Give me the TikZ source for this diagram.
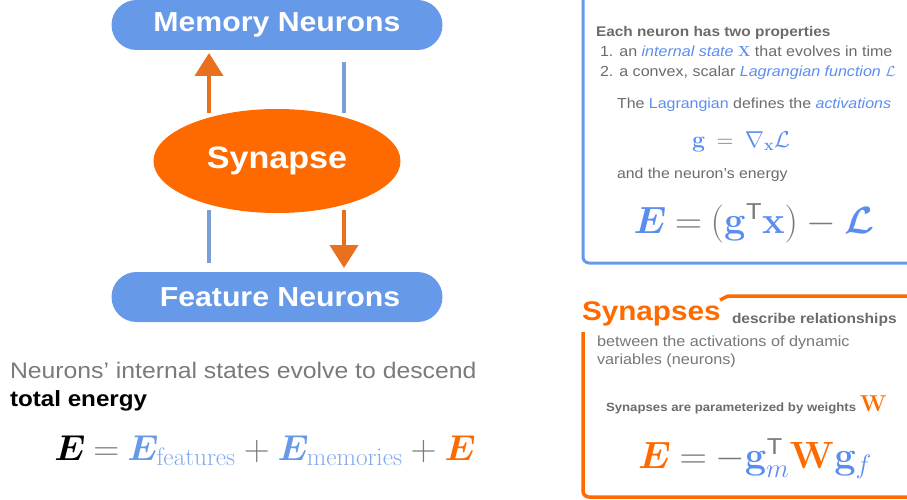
\RequirePackage{fix-cm}
\documentclass[tikz,border=0pt]{standalone}
\usepackage{amsmath,bm}
\usepackage[no-math]{fontspec}
\setmainfont{Liberation Sans}[FakeStretch=1.1]
\usetikzlibrary{arrows.meta,shapes.geometric}
\definecolor{nblue}{HTML}{6699E8}
\definecolor{tblue}{HTML}{5B8DEF}
\definecolor{sblue}{HTML}{84A9EE}
\definecolor{sorange}{HTML}{FF6A00}
\definecolor{aorange}{HTML}{E8701F}
\definecolor{lblue}{HTML}{7A9FD6}
\definecolor{tgray}{HTML}{777777}
\definecolor{bgray}{HTML}{6B6B6B}
\definecolor{mgray}{HTML}{7A7A7A}
\newcommand{\fs}[1]{\fontsize{#1}{#1}\selectfont}
\newcommand{\trT}[1]{\mbox{\fs{#1}\color{mgray}T}}
\begin{document}
\begin{tikzpicture}[x=1pt,y=-1pt,
  pill/.style={draw=none,fill=nblue,rounded corners=25pt,minimum width=331pt,minimum height=50pt,inner sep=0pt,text=white},
  oarrow/.style={draw=aorange,line width=4pt,-{Triangle[width=28pt,length=23pt]}},
  bline/.style={draw=lblue,line width=4pt},
  txt/.style={anchor=base west,inner sep=0pt,outer sep=0pt},
  mth/.style={anchor=base,inner sep=0pt,outer sep=0pt}]
\useasboundingbox (0,0) rectangle (907,500);
\clip (0,0) rectangle (907,500);

% left diagram
\node[pill,font=\fs{27.5}\bfseries] (mem) at (277,25) {Memory Neurons};
\node[pill,font=\fs{27.5}\bfseries] (feat) at (277,297) {\hspace{6pt}Feature Neurons};
\node[ellipse,fill=sorange,draw=none,minimum width=247pt,minimum height=104pt,inner sep=0pt,text=white,font=\fs{31}\bfseries] (syn) at (277,161) {Synapse};

\coordinate (upS) at (209,113);
\coordinate (upE) at (209,53);
\coordinate (blS) at (344,62);
\coordinate (blE) at (344,113);
\coordinate (bl2S) at (209,210);
\coordinate (bl2E) at (209,263);
\coordinate (dnS) at (344,210);
\coordinate (dnE) at (344,268);
\draw[oarrow] (upS) -- (upE);
\draw[oarrow] (dnS) -- (dnE);
\draw[bline] (blS) -- (blE);
\draw[bline] (bl2S) -- (bl2E);

% bottom left text
\node[txt,text=mgray,font=\fs{22.5}] (desc) at (10,378) {Neurons’ internal states evolve to descend};
\node[txt,font=\fs{22}\bfseries] (tot) at (10,406) {total energy};
\node[mth,font=\fs{36}] (etot) at (265,460) {$\bm{E}\mathbin{\color{mgray}=}{\color{nblue}\bm{E}_{\color{sblue}\mathrm{features}}}\mathbin{\color{mgray}+}{\color{nblue}\bm{E}_{\color{sblue}\mathrm{memories}}}\mathbin{\color{mgray}+}{\color{sorange}\bm{E}}$};

% right top box
\coordinate (b1a) at (583,-10);
\coordinate (b1b) at (583,263);
\coordinate (b1c) at (920,263);
\draw[nblue,line width=3pt,rounded corners=6pt] (b1a) -- (b1b) -- (b1c);
\node[txt,text=bgray,font=\fs{14}\bfseries] (each) at (596,37) {Each neuron has two properties};
\node[txt,text=bgray,font=\fs{14.6}] (p1) at (600,57) {1. an {\color{tblue}\itshape internal state} {\color{tblue}$\mathbf{X}$} that evolves in time};
\node[txt,text=bgray,font=\fs{14.6}] (p2) at (600,77) {2. a convex, scalar {\color{tblue}\itshape Lagrangian function} {\color{tblue}$\mathcal{L}$}};
\node[txt,text=bgray,font=\fs{14.5}] (lag) at (617,109) {The {\color{tblue}Lagrangian} defines the {\color{tblue}\itshape activations}};
\node[mth,font=\fs{23}] (geq) at (741,147) {$\color{tblue}\mathbf{g}\;\mathbin{\color{mgray}=}\;\nabla_{\mathbf{x}}\mathcal{L}$};
\node[txt,text=bgray,font=\fs{14.4}] (andt) at (617,178) {and the neuron’s energy};
\node[mth,font=\fs{38}] (eneu) at (754,233) {$\color{tblue}\bm{E}\mathbin{\color{mgray}=}{\color{mgray}(}\mathbf{g}^{\trT{23}}\mathbf{x}{\color{mgray})}\mathbin{\color{mgray}-}\bm{\mathcal{L}}$};

% right bottom box
\coordinate (b2a) at (720,300);
\coordinate (b2b) at (728,296);
\coordinate (b2c) at (920,296);
\draw[sorange,line width=3.5pt] (b2a) -- (b2b) -- (b2c);
\coordinate (b2d) at (583,332);
\coordinate (b2e) at (583,497);
\coordinate (b2f) at (920,497);
\draw[sorange,line width=3.5pt,rounded corners=6pt] (b2d) -- (b2e) -- (b2f);
\node[txt,text=sorange,font=\fs{27}\bfseries] (syns) at (582,320) {Synapses};
\node[txt,text=bgray,font=\fs{14.1}\bfseries] (drel) at (732,323) {describe relationships};
\node[txt,text=tgray,font=\fs{14.75}] (btw1) at (597,346) {between the activations of dynamic};
\node[txt,text=tgray,font=\fs{14.75}] (btw2) at (597,364) {variables (neurons)};
\node[txt,text=bgray,font=\fs{12}\bfseries] (param) at (606,411) {Synapses are parameterized by weights {\color{sorange}\fs{23}$\mathbf{W}$}};
\node[mth,font=\fs{38}] (esyn) at (755,468) {$\color{sorange}\bm{E}\mathbin{\color{mgray}=}{\color{mgray}-}{\color{tblue}\mathbf{g}_m^{\trT{23}}}\mathbf{W}{\color{tblue}\mathbf{g}_f}$};
\end{tikzpicture}
\end{document}
